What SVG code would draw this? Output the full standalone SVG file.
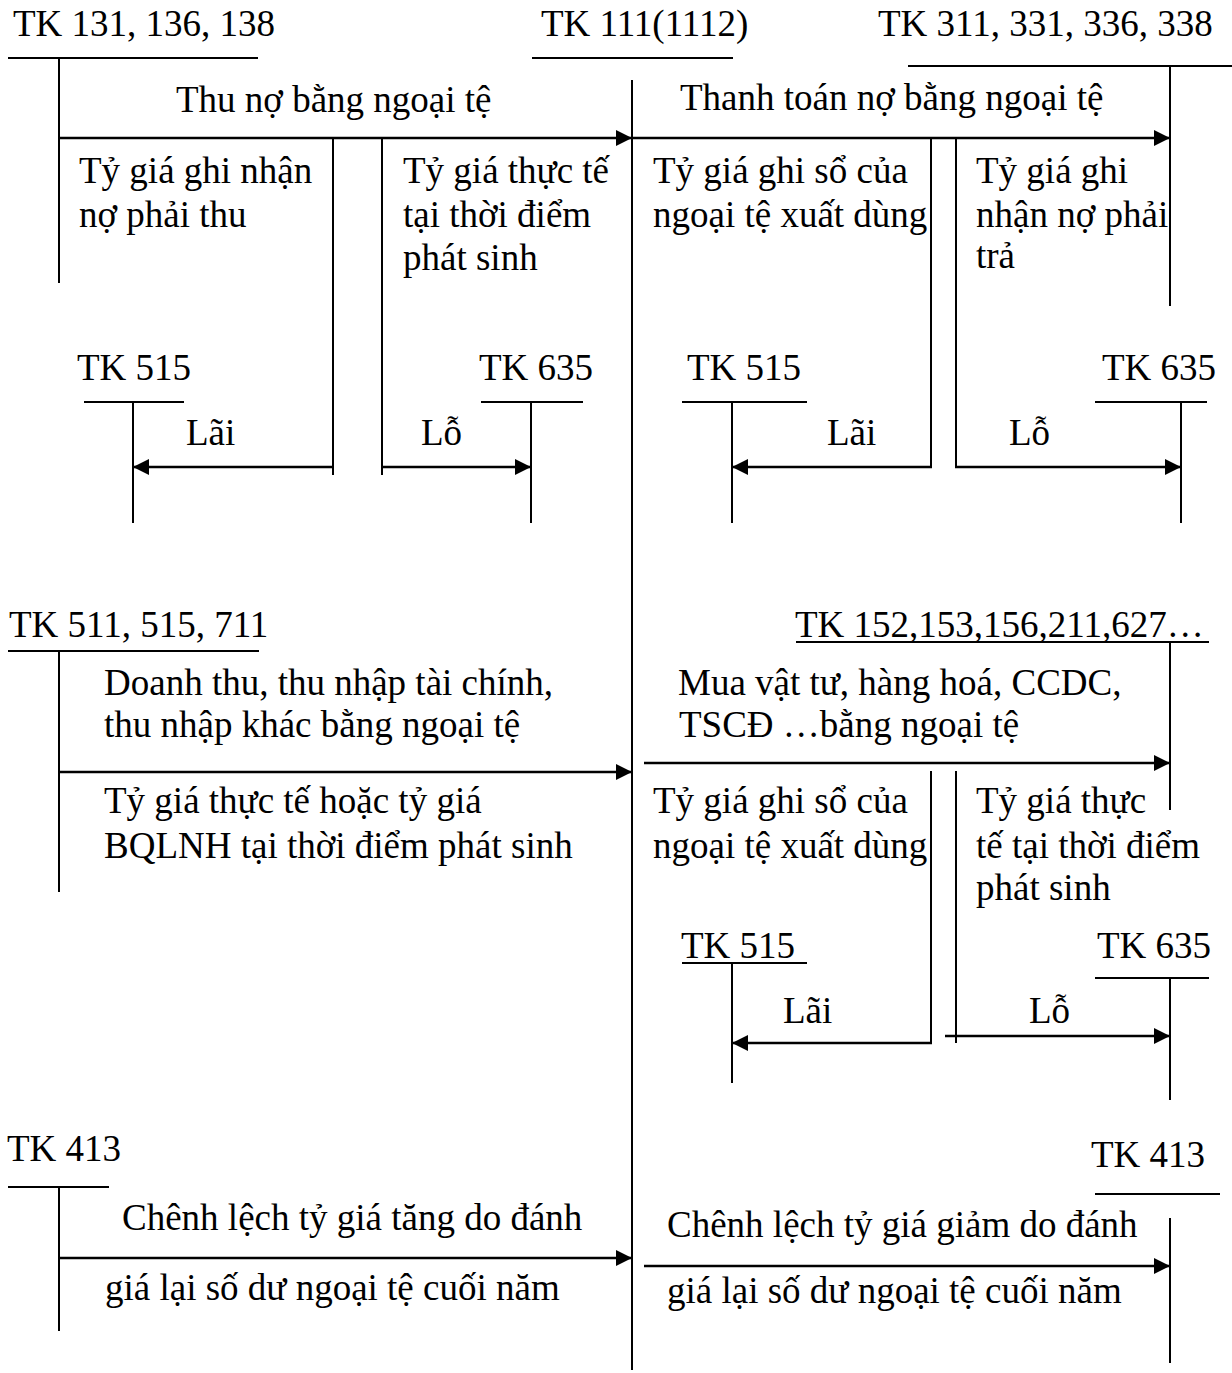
<svg xmlns="http://www.w3.org/2000/svg" width="1232" height="1373" viewBox="0 0 1232 1373">
<style>
.t{font-family:"Liberation Serif","Times New Roman",serif;font-size:37px;fill:#000}
.ln{stroke:#000;stroke-width:2;fill:none}
.ar{stroke:#000;stroke-width:2.6;fill:none;marker-end:url(#ah)}
</style>
<defs>
<marker id="ah" markerUnits="userSpaceOnUse" markerWidth="17" markerHeight="16" refX="16" refY="8" orient="auto"><path d="M0,0 L16,8 L0,16 z" fill="#000"/></marker>
</defs>
<rect width="1232" height="1373" fill="#fff"/>

<!-- Top section accounts -->
<g id="tk131">
<text class="t" x="13" y="36">TK 131, 136, 138</text>
<line class="ln" x1="8" y1="58" x2="258" y2="58"/>
<line class="ln" x1="59" y1="58" x2="59" y2="283"/>
</g>
<g id="tk111">
<text class="t" x="541" y="36">TK 111(1112)</text>
<line class="ln" x1="532" y1="58" x2="733" y2="58"/>
<line class="ln" x1="632" y1="80" x2="632" y2="1370"/>
</g>
<g id="tk311">
<text class="t" x="878" y="36">TK 311, 331, 336, 338</text>
<line class="ln" x1="908" y1="66" x2="1232" y2="66"/>
<line class="ln" x1="1170" y1="66" x2="1170" y2="306"/>
</g>
<g id="tk515a">
<text class="t" x="77" y="380">TK 515</text>
<line class="ln" x1="84" y1="402" x2="184" y2="402"/>
<line class="ln" x1="133" y1="402" x2="133" y2="523"/>
</g>
<g id="tk635a">
<text class="t" x="479" y="380">TK 635</text>
<line class="ln" x1="481" y1="402" x2="583" y2="402"/>
<line class="ln" x1="531" y1="402" x2="531" y2="523"/>
</g>
<g id="tk515b">
<text class="t" x="687" y="380">TK 515</text>
<line class="ln" x1="682" y1="402" x2="807" y2="402"/>
<line class="ln" x1="732" y1="402" x2="732" y2="523"/>
</g>
<g id="tk635b">
<text class="t" x="1102" y="380">TK 635</text>
<line class="ln" x1="1095" y1="402" x2="1207" y2="402"/>
<line class="ln" x1="1181" y1="402" x2="1181" y2="523"/>
</g>

<!-- Middle section accounts -->
<g id="tk511">
<text class="t" x="9" y="637">TK 511, 515, 711</text>
<line class="ln" x1="8" y1="651" x2="259" y2="651"/>
<line class="ln" x1="59" y1="651" x2="59" y2="892"/>
</g>
<g id="tk152">
<text class="t" x="795" y="637">TK 152,153,156,211,627…</text>
<line class="ln" x1="796" y1="642" x2="1209" y2="642"/>
<line class="ln" x1="1170" y1="642" x2="1170" y2="810"/>
</g>
<g id="tk515c">
<text class="t" x="681" y="958">TK 515 </text>
<line class="ln" x1="682" y1="963" x2="807" y2="963"/>
<line class="ln" x1="732" y1="963" x2="732" y2="1083"/>
</g>
<g id="tk635c">
<text class="t" x="1097" y="958">TK 635</text>
<line class="ln" x1="1095" y1="978" x2="1209" y2="978"/>
<line class="ln" x1="1170" y1="978" x2="1170" y2="1100"/>
</g>

<!-- Bottom section accounts -->
<g id="tk413a">
<text class="t" x="7" y="1161">TK 413</text>
<line class="ln" x1="8" y1="1187" x2="109" y2="1187"/>
<line class="ln" x1="59" y1="1187" x2="59" y2="1331"/>
</g>
<g id="tk413b">
<text class="t" x="1091" y="1167">TK 413</text>
<line class="ln" x1="1095" y1="1194" x2="1220" y2="1194"/>
<line class="ln" x1="1170" y1="1218" x2="1170" y2="1363" stroke-width="1.6"/>
</g>

<!-- Connectors -->
<g id="connectors">
<line class="ar" x1="59" y1="138" x2="632" y2="138"/>
<line class="ar" x1="632" y1="138" x2="1170" y2="138"/>
<line class="ln" x1="333" y1="138" x2="333" y2="475"/>
<line class="ln" x1="382" y1="138" x2="382" y2="475"/>
<line class="ln" x1="931" y1="138" x2="931" y2="467"/>
<line class="ln" x1="956" y1="138" x2="956" y2="467"/>
<line class="ar" x1="333" y1="467" x2="133" y2="467"/>
<line class="ar" x1="382" y1="467" x2="531" y2="467"/>
<line class="ar" x1="932" y1="467" x2="732" y2="467"/>
<line class="ar" x1="955" y1="467" x2="1181" y2="467"/>

<line class="ar" x1="59" y1="772" x2="632" y2="772"/>
<line class="ar" x1="644" y1="763" x2="1170" y2="763"/>
<line class="ln" x1="931" y1="771" x2="931" y2="1043"/>
<line class="ln" x1="956" y1="771" x2="956" y2="1043"/>
<line class="ar" x1="932" y1="1043" x2="732" y2="1043"/>
<line class="ar" x1="945" y1="1036" x2="1170" y2="1036"/>

<line class="ar" x1="59" y1="1258" x2="632" y2="1258"/>
<line class="ar" x1="644" y1="1266" x2="1170" y2="1266"/>
</g>

<!-- Labels -->
<g id="labels">
<text class="t" x="176" y="112">Thu nợ bằng ngoại tệ</text>
<text class="t" x="680" y="110">Thanh toán nợ bằng ngoại tệ</text>
<text class="t" x="79" y="183">Tỷ giá ghi nhận</text>
<text class="t" x="79" y="227">nợ phải thu</text>
<text class="t" x="403" y="183">Tỷ giá thực tế</text>
<text class="t" x="403" y="227">tại thời điểm</text>
<text class="t" x="403" y="270">phát sinh</text>
<text class="t" x="653" y="183">Tỷ giá ghi sổ của</text>
<text class="t" x="653" y="227">ngoại tệ xuất dùng</text>
<text class="t" x="976" y="183">Tỷ giá ghi</text>
<text class="t" x="976" y="227">nhận nợ phải</text>
<text class="t" x="976" y="268">trả</text>
<text class="t" x="186" y="445">Lãi</text>
<text class="t" x="421" y="445">Lỗ</text>
<text class="t" x="827" y="445">Lãi</text>
<text class="t" x="1009" y="445">Lỗ</text>

<text class="t" x="104" y="695">Doanh thu, thu nhập tài chính,</text>
<text class="t" x="104" y="737">thu nhập khác bằng ngoại tệ</text>
<text class="t" x="104" y="813">Tỷ giá thực tế hoặc tỷ giá</text>
<text class="t" x="104" y="858">BQLNH tại thời điểm phát sinh</text>
<text class="t" x="678" y="695">Mua vật tư, hàng hoá, CCDC,</text>
<text class="t" x="679" y="737">TSCĐ …bằng ngoại tệ</text>
<text class="t" x="653" y="813">Tỷ giá ghi sổ của</text>
<text class="t" x="653" y="858">ngoại tệ xuất dùng</text>
<text class="t" x="976" y="813">Tỷ giá thực</text>
<text class="t" x="976" y="858">tế tại thời điểm</text>
<text class="t" x="976" y="900">phát sinh</text>
<text class="t" x="783" y="1023">Lãi</text>
<text class="t" x="1029" y="1023">Lỗ</text>

<text class="t" x="122" y="1230">Chênh lệch tỷ giá tăng do đánh</text>
<text class="t" x="105" y="1300">giá lại số dư ngoại tệ cuối năm</text>
<text class="t" x="667" y="1237">Chênh lệch tỷ giá giảm do đánh</text>
<text class="t" x="667" y="1303">giá lại số dư ngoại tệ cuối năm</text>
</g>
</svg>
